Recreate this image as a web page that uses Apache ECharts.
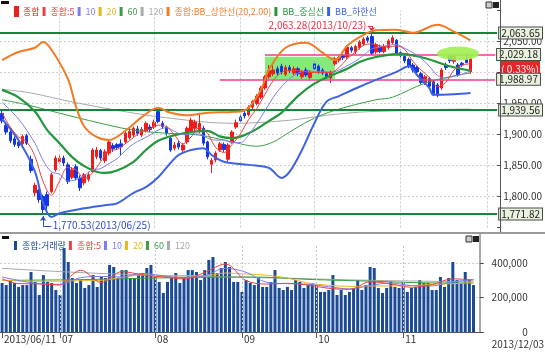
<!DOCTYPE html>
<html><head><meta charset="utf-8">
<script src="https://cdn.jsdelivr.net/npm/echarts@6/dist/echarts.min.js"></script>
<style>html,body{margin:0;padding:0;background:#fff}#c{width:545px;height:353px}</style>
</head><body><div id="c"></div>
<script>
// ---- price candles (2013/06/11 .. 2013/11/27), one per trading day ----
const opens  = [1934,1915,1904,1893,1888,1885,1898,1860,1806,1810,1800,1803,1808,1843,
 1856,1862,1851,1831,1848,1830,1822,1828,1840,1864,1874,1858,1870,1882,1884,1885,1888,1895,1899,1909,1899,1906,1912,
 1912,1937,1918,1912,1894,1878,1886,1875,1888,1905,1910,1905,1910,1888,1852,1859,1875,1884,1860,1888,1912,
 1928,1934,1932,1944,1950,1960,1975,1993,1998,2006,2010,1997,2008,1999,2006,1993,2004,1992,
 2014,2010,2004,1998,1991,2014,2020,2027,2025,2040,2034,2040,2046,2056,2058,2033,2041,2034,2040,2048,2052,
 2032,2026,2021,2012,2008,1998,1984,1990,1985,1980,1975,2012,2027,2018,2012,2015,2021,2001];
const highs  = [1940,1918,1908,1897,1892,1900,1901,1866,1822,1812,1803,1808,1838,1866,
 1868,1866,1855,1847,1852,1834,1838,1840,1878,1880,1877,1876,1890,1886,1886,1892,1905,1910,1913,1914,1912,1921,1916,
 1924,1941,1922,1914,1897,1888,1890,1886,1913,1927,1924,1935,1914,1890,1862,1873,1888,1887,1886,1907,1924,
 1932,1940,1947,1956,1965,1978,1996,2012,2015,2010,2014,2012,2012,2010,2009,2004,2008,2004,
 2018,2013,2007,2001,2003,2025,2027,2030,2044,2043,2045,2052,2057,2059,2063.28,2048,2045,2046,2054,2060,2054,
 2037,2029,2024,2015,2011,2001,1996,1993,1988,1983,2007,2016,2030,2029,2015,2017,2031,2026];
const lows   = [1918,1900,1886,1880,1878,1882,1883,1838,1800,1790,1770.53,1778,1805,1840,
 1852,1849,1820,1828,1826,1809,1818,1824,1838,1860,1858,1854,1866,1872,1876,1866,1885,1892,1896,1898,1896,1903,1904,
 1909,1918,1909,1898,1872,1874,1876,1872,1885,1902,1905,1902,1882,1860,1838,1855,1872,1872,1856,1885,1909,
 1918,1926,1929,1940,1947,1957,1972,1990,1994,1995,1997,1994,1999,1996,1994,1990,1993,1989,
 2003,1998,1996,1990,1983,2011,2016,2020,2022,2032,2030,2037,2043,2048,2028,2030,2031,2031,2037,2045,2028,
 2024,2015,2007,2000,1997,1981,1980,1975,1962,1960,1972,2004,2015,2014,1993,2009,2015,1998];
const closes = [1922,1904,1890,1884,1882,1897,1886,1842,1818,1795,1779,1785,1835,1862,
 1862,1854,1824,1843,1830,1814,1835,1835,1875,1875,1862,1872,1888,1877,1879,1880,1902,1905,1910,1902,1908,1918,1908,
 1920,1921,1913,1902,1875,1883,1880,1883,1910,1923,1920,1918,1886,1864,1858,1870,1885,1876,1883,1904,1919,
 1922,1930,1944,1953,1962,1975,1993,2003,2004,1999,2001,2008,2003,2006,1998,2001,1996,2000,
 2006,2001,1999,1993,2001,2022,2024,2024,2041,2036,2042,2049,2054,2052,2031,2045,2034,2042,2051,2056,2031,
 2027,2019,2010,2004,2001,1984,1993,1978,1966,1963,2004,2008,2019,2026,1996,2012,2016,2022.7];
const volumes = [285000,273000,302000,285000,262000,273000,273000,349000,291000,215000,331000,291000,285000,244000,
 215000,488000,407000,314000,285000,302000,256000,273000,331000,262000,320000,314000,390000,378000,314000,360000,360000,314000,314000,331000,343000,372000,390000,
 320000,291000,227000,291000,314000,343000,285000,314000,360000,360000,349000,302000,360000,419000,436000,343000,372000,407000,378000,291000,291000,
 233000,302000,285000,273000,314000,262000,262000,291000,360000,256000,244000,262000,244000,302000,291000,256000,273000,285000,
 273000,233000,233000,244000,331000,215000,244000,215000,233000,256000,302000,244000,273000,378000,372000,256000,227000,256000,291000,262000,256000,
 291000,233000,256000,262000,302000,285000,285000,244000,244000,320000,262000,314000,407000,302000,285000,349000,302000,273000];

// ---- indicator lines: [day index, value] ----
const ma5 = [[0,1935],[2,1912],[4,1896],[6,1888],[8,1865],[10,1824],[12,1802],[14,1825],[16,1847],[18,1843],[20,1829],[22,1838],[24,1856],[26,1874],[28,1876],[30,1885],[32,1895],[34,1905],[36,1909],[38,1915],[40,1913],[42,1899],[44,1885],[46,1896],[48,1911],[50,1902],[52,1879],[54,1871],[56,1884],[58,1901],[60,1924],[62,1942],[64,1965],[66,1987],[68,2000],[70,2003],[72,2003],[74,2001],[76,2000],[78,2000],[80,2000],[82,2008],[84,2022],[86,2033],[88,2044],[90,2046],[92,2043],[94,2041],[96,2043],[98,2037],[100,2018],[102,2004],[104,1992],[106,1977],[108,1984],[110,2004],[112,2012],[114,2014]];
const ma10 = [[0,1952],[4,1925],[8,1886],[10,1858],[12,1840],[14,1836],[16,1825],[18,1827],[20,1834],[22,1843],[24,1845],[26,1853],[28,1861],[30,1874],[32,1885],[34,1892],[36,1899],[38,1907],[40,1911],[42,1905],[44,1900],[46,1901],[48,1901],[50,1894],[52,1891],[54,1891],[56,1887],[58,1887],[60,1899],[62,1918],[64,1938],[66,1960],[68,1977],[70,1990],[72,1999],[74,2002],[76,2002],[78,2002],[80,2000],[82,2004],[84,2011],[86,2018],[88,2028],[90,2038],[92,2041],[94,2044],[96,2045],[98,2039],[100,2032],[102,2023],[104,2010],[106,1995],[108,1991],[110,1994],[112,1997],[114,2003]];
const ma60 = [[0,1956],[6,1948],[16,1931],[26,1915],[32,1907],[40,1902],[48,1899],[56,1888],[62,1881],[66,1888],[70,1904],[75,1923],[81,1939],[91,1956],[95,1960],[103,1983],[111,1996],[114,1999]];
const ma120 = [[0,1973],[7,1967],[16,1954],[28,1939],[40,1927],[56,1918],[70,1923],[79,1931],[87,1936],[95,1938],[104,1940],[114,1941]];
const bbUpper = [[0,2020],[4,2033],[8,2040],[10,2049],[12,2037],[16,1990],[18,1945],[20,1913],[23,1896],[26,1891],[30,1906],[34,1928],[38,1943],[41,1935],[45,1931],[50,1935],[55,1936],[58,1937],[60,1943],[63,1972],[65,2005],[69,2040],[74,2048],[78,2032],[81,2020],[84,2043],[87,2057],[91,2068],[96,2069],[100,2064],[106,2077],[110,2066],[114,2052]];
const bbMid = [[0,1972],[4,1960],[8,1937],[11,1907],[14,1886],[17,1864],[20,1849],[23,1840],[25,1838],[28,1842],[32,1856],[35,1875],[38,1890],[42,1899],[46,1904],[50,1906],[53,1897],[56,1894],[59,1899],[62,1909],[65,1922],[68,1935],[72,1962],[76,1982],[80,1995],[84,2006],[87,2017],[91,2025],[97,2030],[103,2023],[109,2010],[114,2003]];
const bbLower = [[0,1925],[4,1891],[8,1840],[10,1790],[12,1767],[14,1773],[20,1781],[25,1786],[28,1789],[32,1806],[35,1815],[38,1831],[41,1854],[43,1867],[46,1875],[49,1878],[51,1867],[54,1856],[60,1851],[65,1846],[68,1830],[70,1840],[73,1875],[76,1918],[79,1953],[82,1962],[87,1977],[91,1988],[96,2001],[99,2010],[101,1996],[104,1975],[105,1964],[110,1965],[114,1967]];
const volMa5 = [[0,310000],[4,281000],[9,280000],[14,273000],[17,334000],[19,359000],[24,288000],[29,351000],[34,332000],[39,320000],[44,309000],[49,346000],[54,395000],[59,299000],[64,279000],[69,283000],[74,273000],[79,254000],[84,248000],[89,291000],[94,280000],[99,260000],[104,276000],[109,309000],[114,302000]];
const volMa10 = [[0,320000],[4,300000],[9,280000],[14,277000],[19,316000],[24,323000],[29,320000],[34,341000],[39,326000],[44,315000],[49,327000],[54,370000],[59,347000],[64,289000],[69,281000],[74,278000],[79,263000],[84,251000],[89,270000],[94,285000],[99,270000],[104,268000],[109,292000],[114,305000]];
const volMa20 = [[0,300000],[10,295000],[19,298000],[24,300000],[29,318000],[34,332000],[39,323000],[44,328000],[49,327000],[54,343000],[59,337000],[64,330000],[69,314000],[74,284000],[79,272000],[84,265000],[89,267000],[94,268000],[99,270000],[104,277000],[109,281000],[114,287000]];
const volMa60 = [[0,300000],[20,305000],[40,315000],[60,320000],[75,305000],[90,295000],[105,285000],[114,285000]];
const volMa120 = [[0,370000],[15,350000],[30,335000],[50,322000],[70,312000],[90,300000],[114,292000]];

// ---- axis ticks, levels, annotations ----
const monthStarts = [14,37,58,76,97,118];
const xLabels = {0:'2013/06/11',14:'07',37:'08',58:'09',76:'10',97:'11'};
const lastDate = '2013/12/03';
const greenLevels = [2063.65, 1939.56, 1771.82];
const pinkLevels = [2029.18, 1988.97];
const pinkStarts = [64, 53];
const boxSpan = [64, 81, 1988.97, 2025.6];
const ellipseAt = [111, 2030.5];
const peak = {i: 90, v: 2063.28, date: '2013/10/23'};
const trough = {i: 10, v: 1770.53, date: '2013/06/25'};
const changeText = '( 0.33%)';

function fmt(v, d){ return v.toFixed(d).replace(/\B(?=(\d{3})+(?!\d))/g, ','); }

const FONT = "'Noto Sans CJK KR','Noto Sans',sans-serif";
const mainCats = Array.from({length:121}, (_, i) => String(i));
const volCats = Array.from({length:116}, (_, i) => String(i));
const candles = opens.map((o, i) => [o, closes[i], lows[i], highs[i]]);

const C = {up:'#f01c1c', down:'#1336e4', ma5:'#ee4040', ma10:'#7d7df0', ma20:'#e5b81c', ma60:'#3d9c45', ma120:'#a8a8a8',
  bbU:'#f37a25', bbM:'#23973c', bbL:'#3d62e3', vol:'#1c4b95', lvl:'#17823a', pink:'#ee3d8a'};

const lvlLabel = {show:true, position:'end', distance:2, fontSize:10, color:'#222', fontFamily:FONT,
  backgroundColor:'#e8f2de', borderColor:'#4a4a4a', borderWidth:1, padding:[1,2,0,2]};

const levelLines = [];
greenLevels.forEach(v => levelLines.push({yAxis:v, lineStyle:{color:C.lvl, width:2, type:'solid'},
  label:Object.assign({}, lvlLabel, {formatter: fmt(v,2)})}));
pinkLevels.forEach((v, k) => levelLines.push([
  {coord:[pinkStarts[k], v], lineStyle:{color:C.pink, width:1.5, type:'solid'}, label:Object.assign({}, lvlLabel, {formatter: fmt(v,2)})},
  {coord:[120, v]}]));
// annotation arrows
levelLines.push([{coord:[peak.i-1, 2075], lineStyle:{color:'#e0343c', width:1, type:'solid'}, label:{show:false}}, {coord:[peak.i, 2075]}]);
levelLines.push([{coord:[peak.i, 2075], lineStyle:{color:'#e0343c', width:1, type:'solid'}, label:{show:false}}, {coord:[peak.i, 2065.5], symbol:'arrow', symbolSize:5}]);
levelLines.push([{coord:[trough.i, 1752.5], lineStyle:{color:'#2c4fc4', width:1, type:'solid'}, label:{show:false}}, {coord:[trough.i, 1768.5], symbol:'arrow', symbolSize:5}]);
levelLines.push([{coord:[trough.i, 1752.5], lineStyle:{color:'#2c4fc4', width:1, type:'solid'}, label:{show:false}}, {coord:[trough.i+2, 1752.5]}]);

const monthLines = monthStarts.map(i => ({xAxis: i}));

function line(name, data, color, width, z, extra){
  return Object.assign({type:'line', name, data, xAxisIndex:0, yAxisIndex:0, smooth:0.35, symbol:'none',
    color, lineStyle:{color, width}, z, silent:true}, extra||{});
}
function vline(name, data, color){
  return {type:'line', name, data, xAxisIndex:1, yAxisIndex:1, smooth:0.35, symbol:'none', color,
    lineStyle:{color, width:1}, z:4, silent:true};
}

const legendText = (n, c) => ({name:n, textStyle:{color:c}});

const option = {
  animation:false,
  textStyle:{fontFamily:FONT},
  legend:[
    {top:1, left:9, icon:'rect', itemWidth:3, itemHeight:9, itemGap:3, selectedMode:false,
     textStyle:{fontSize:9, fontFamily:FONT}, data:[
      legendText('종합', C.up), legendText('종합:5', C.ma5), legendText('10', C.ma10), legendText('20', C.ma20),
      legendText('60', C.ma60), legendText('120', C.ma120), legendText('종합:BB_상한선(20,2.00)', C.bbU),
      legendText('BB_중심선', C.bbM), legendText('BB_하한선', C.bbL)]},
    {top:236, left:9, icon:'rect', itemWidth:3, itemHeight:9, itemGap:3, selectedMode:false,
     textStyle:{fontSize:9, fontFamily:FONT}, data:[
      legendText('종합:거래량', C.vol), legendText('종합:5', C.ma5), legendText('10', C.ma10), legendText('20', C.ma20),
      legendText('60', C.ma60), legendText('120', C.ma120)]}
  ],
  grid:[
    {left:0, top:10.5, width:500.3, height:217},
    {left:0, top:246, width:479.7, height:86}
  ],
  xAxis:[
    {type:'category', gridIndex:0, data:mainCats, boundaryGap:true, axisLine:{show:false}, axisTick:{show:false}, axisLabel:{show:false}, splitLine:{show:false}},
    {type:'category', gridIndex:1, data:volCats, boundaryGap:true,
     axisLine:{lineStyle:{color:'#555', width:1}},
     axisTick:{show:true, alignWithLabel:true, length:6, interval:(i) => xLabels[i] !== undefined, lineStyle:{color:'#555'}},
     axisLabel:{interval:(i) => xLabels[i] !== undefined, formatter:(v, i) => xLabels[i] || '', align:'left', margin:2,
       padding:[0,0,0,2], fontSize:10, color:'#333', fontFamily:FONT},
     splitLine:{show:false}}
  ],
  yAxis:[
    {type:'value', gridIndex:0, position:'right', min:1750, max:2100, interval:50,
     axisLine:{show:false}, axisTick:{show:true, length:4, lineStyle:{color:'#444'}},
     axisLabel:{margin:6, fontSize:10, color:'#333', fontFamily:FONT,
       formatter:(v) => (v === 1750 || v === 2100 || v === 2000) ? '' : fmt(v,2)},
     splitLine:{show:true, showMinLine:false, showMaxLine:false, lineStyle:{color:'#cfcfcf', type:[2,2]}}},
    {type:'value', gridIndex:1, position:'right', min:0, max:500000, interval:200000,
     axisLine:{show:false}, axisTick:{show:true, length:4, lineStyle:{color:'#444'}},
     axisLabel:{margin:48, align:'right', fontSize:10, color:'#333', fontFamily:FONT, showMaxLabel:false,
       formatter:(v) => v > 400000 ? '' : fmt(v,0)},
     splitLine:{show:true, showMinLine:false, showMaxLine:false, lineStyle:{color:'#cfcfcf', type:[2,2]}}}
  ],
  series:[
    line('120', ma120, C.ma120, 1, 1, {
      markLine:{silent:true, symbol:['none','none'], label:{show:false},
        lineStyle:{color:'#c8c8c8', type:[2,2], width:1}, data:monthLines},
      markArea:{silent:true, itemStyle:{color:'rgba(110,232,100,0.85)'},
        data:[[{coord:[boxSpan[0], boxSpan[3]]}, {coord:[boxSpan[1], boxSpan[2]]}]]},
      markPoint:{silent:true, data:[{coord:ellipseAt, symbol:'circle', symbolSize:[42,14],
        itemStyle:{color:'rgba(160,240,80,0.9)'}, label:{show:false}}]}
    }),
    {type:'candlestick', name:'종합', data:candles, xAxisIndex:0, yAxisIndex:0, barWidth:3, z:3, silent:true,
     itemStyle:{color:C.up, color0:C.down, borderColor:C.up, borderColor0:C.down, borderWidth:1},
     markLine:{silent:true, symbol:['none','none'], data:levelLines},
     markPoint:{silent:true, symbolSize:1, itemStyle:{color:'rgba(0,0,0,0)'}, data:[
       {coord:[peak.i-1, 2075], label:{show:true, position:'left', distance:1, fontSize:10, color:'#e0343c', fontFamily:FONT,
         formatter: fmt(peak.v,2) + '(' + peak.date + ')'}},
       {coord:[trough.i+2, 1752.5], label:{show:true, position:'right', distance:1, fontSize:10, color:'#2c4fc4', fontFamily:FONT,
         formatter: fmt(trough.v,2) + '(' + trough.date + ')'}}
     ]}},
    line('20', bbMid, C.ma20, 1, 4),
    line('60', ma60, C.ma60, 1, 4),
    line('종합:BB_상한선(20,2.00)', bbUpper, C.bbU, 2, 5),
    line('BB_하한선', bbLower, C.bbL, 2, 5),
    line('BB_중심선', bbMid, C.bbM, 2.2, 5),
    line('10', ma10, C.ma10, 1, 6),
    line('종합:5', ma5, C.ma5, 1, 6),
    {type:'bar', name:'종합:거래량', data:volumes, xAxisIndex:1, yAxisIndex:1, barWidth:3, z:2, silent:true,
     itemStyle:{color:C.vol},
     markLine:{silent:true, symbol:['none','none'], label:{show:false}, lineStyle:{color:'#c8c8c8', type:[2,2], width:1},
       data:monthStarts.filter(i => i < 116).map(i => ({xAxis:i}))}},
    vline('120', volMa120, C.ma120),
    vline('60', volMa60, C.ma60),
    vline('20', volMa20, C.ma20),
    vline('10', volMa10, C.ma10),
    vline('종합:5', volMa5, C.ma5)
  ],
  graphic:[
    {type:'rect', shape:{x:1, y:1, width:8, height:3}, style:{fill:'#111'}, z:10},
    {type:'rect', shape:{x:486, y:2, width:6, height:6}, style:{fill:'#ccc', stroke:'#333', lineWidth:1}, z:10},
    {type:'rect', shape:{x:493, y:2, width:6, height:6}, style:{fill:'#222'}, z:10},
    {type:'line', shape:{x1:500.5, y1:0, x2:500.5, y2:233}, style:{stroke:'#555', lineWidth:1}, z:10},
    {type:'line', shape:{x1:0, y1:233, x2:545, y2:233}, style:{stroke:'#9a9a9a', lineWidth:2}, z:10},
    {type:'rect', shape:{x:2, y:236, width:7, height:3}, style:{fill:'#111'}, z:10},
    {type:'rect', shape:{x:466, y:236, width:6, height:6}, style:{fill:'#ccc', stroke:'#333', lineWidth:1}, z:10},
    {type:'rect', shape:{x:473, y:236, width:6, height:6}, style:{fill:'#222'}, z:10},
    {type:'line', shape:{x1:480, y1:234, x2:480, y2:332}, style:{stroke:'#555', lineWidth:1}, z:10},
    {type:'rect', shape:{x:501, y:52, width:39, height:23}, style:{fill:'#e8262a'}, z:1},
    {type:'text', x:520, y:69, style:{text:changeText, fill:'#fff', fontSize:10, fontFamily:FONT, align:'center', verticalAlign:'middle'}, z:2},
    {type:'text', right:1, top:339, style:{text:lastDate, fill:'#333', fontSize:10, fontFamily:FONT}, z:10}
  ]
};
const chart = echarts.init(document.getElementById('c'), null, {renderer:'canvas'});
chart.setOption(option);
</script>
</body></html>
